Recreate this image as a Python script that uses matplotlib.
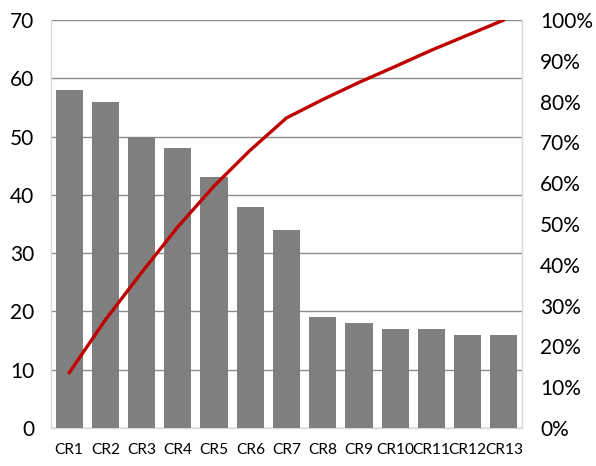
import matplotlib
matplotlib.use("Agg")
import matplotlib.pyplot as plt
from matplotlib.ticker import FuncFormatter

# Pareto data
categories = ["CR1", "CR2", "CR3", "CR4", "CR5", "CR6", "CR7",
              "CR8", "CR9", "CR10", "CR11", "CR12", "CR13"]
counts = [58, 56, 50, 48, 43, 38, 34, 19, 18, 17, 17, 16, 16]
cum_pct = [13.5, 26.5, 38.1, 49.3, 59.3, 68.1, 76.0,
           80.5, 84.7, 88.6, 92.6, 96.3, 100.0]

plt.rcParams['font.family'] = ['Lato', 'DejaVu Sans']

fig = plt.figure(figsize=(5.96, 4.66), dpi=100)
ax = fig.add_axes([51 / 596, 1 - 428 / 466, (522 - 51) / 596, (428 - 20) / 466])

x = range(len(categories))
ax.bar(x, counts, width=0.75, color='#7f7f7f', zorder=3)
ax.set_xlim(-0.5, len(categories) - 0.5)
ax.set_ylim(0, 70)
ax.set_yticks(range(0, 71, 10))
ax.yaxis.grid(True, color='#8c8c8c', linewidth=1.0, zorder=0)
ax.set_axisbelow(True)
ax.set_xticks(list(x))
ax.set_xticklabels(categories, fontsize=11.2)
ax.tick_params(axis='y', labelsize=15, length=0, pad=12)
ax.tick_params(axis='x', length=0, pad=11)
for side in ['left', 'right', 'bottom']:
    ax.spines[side].set_color('#d9d9d9')
    ax.spines[side].set_linewidth(1.0)
ax.spines['top'].set_visible(False)

ax2 = ax.twinx()
ax2.plot(x, cum_pct, color='#c00000', linewidth=2.4, solid_capstyle='round', zorder=4)
ax2.set_ylim(0, 100)
ax2.set_yticks(range(0, 101, 10))
ax2.yaxis.set_major_formatter(FuncFormatter(lambda v, p: f"{v:.0f}%"))
ax2.tick_params(axis='y', labelsize=15, length=0, pad=13)
for s in ax2.spines.values():
    s.set_visible(False)

fig.savefig("out.png", dpi=100)
